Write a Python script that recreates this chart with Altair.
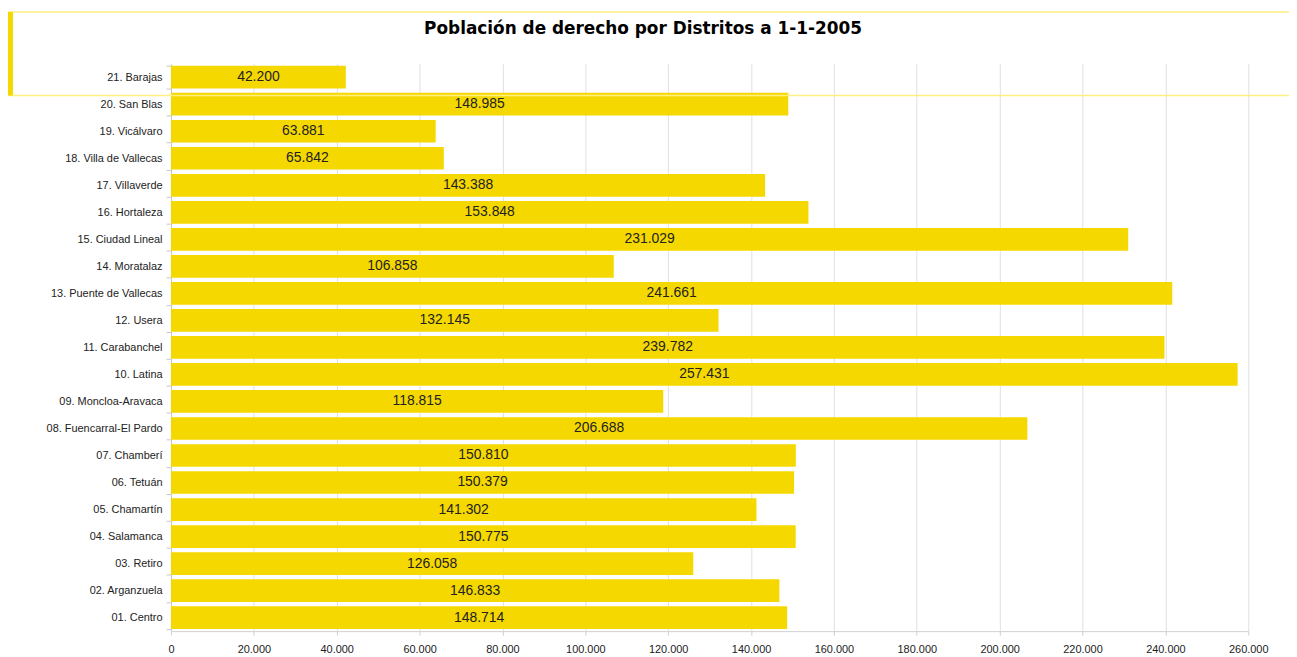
import altair as alt
import pandas as pd

districts = [
    "01. Centro", "02. Arganzuela", "03. Retiro", "04. Salamanca", "05. Chamartín",
    "06. Tetuán", "07. Chamberí", "08. Fuencarral-El Pardo", "09. Moncloa-Aravaca",
    "10. Latina", "11. Carabanchel", "12. Usera", "13. Puente de Vallecas",
    "14. Moratalaz", "15. Ciudad Lineal", "16. Hortaleza", "17. Villaverde",
    "18. Villa de Vallecas", "19. Vicálvaro", "20. San Blas", "21. Barajas",
]
population = [
    148714, 146833, 126058, 150775, 141302, 150379, 150810, 206688, 118815,
    257431, 239782, 132145, 241661, 106858, 231029, 153848, 143388, 65842,
    63881, 148985, 42200,
]
x_ticks = list(range(0, 260001, 20000))
title_text = "Población de derecho por Distritos a 1-1-2005"

df = pd.DataFrame({"distrito": districts, "poblacion": population})
order = list(reversed(districts))

BAR = "#F5D800"
BOX = "#FFEE80"
FONT = "Liberation Sans"

base = alt.Chart(df).transform_calculate(
    label="replace(format(datum.poblacion, ',d'), ',', '.')"
)

y_enc = alt.Y(
    "distrito:N", sort=order, title=None,
    scale=alt.Scale(paddingInner=0.16, paddingOuter=0.08),
    axis=alt.Axis(labelFontSize=11, labelFont=FONT, labelColor="#222",
                  domainColor="#c8c8c8", tickColor="#c8c8c8", tickSize=5,
                  tickBand="extent", labelPadding=4, grid=False),
)
x_enc = alt.X(
    "poblacion:Q", title=None,
    scale=alt.Scale(domain=[0, 260000], nice=False),
    axis=alt.Axis(values=x_ticks, grid=True, gridColor="#e0e0e0",
                  domainColor="#d0d0d0", tickColor="#d0d0d0", tickSize=4,
                  labelFontSize=11, labelFont=FONT, labelColor="#222",
                  labelPadding=8, labelFlush=False,
                  labelExpr="replace(format(datum.value, ',d'), ',', '.')"),
)

bars = base.mark_bar(color=BAR).encode(x=x_enc, y=y_enc)
labels = base.mark_text(font=FONT, fontSize=14, color="#222", baseline="middle").encode(
    x=alt.X("xmid:Q"), y=alt.Y("distrito:N", sort=order), text="label:N"
).transform_calculate(xmid="datum.poblacion / 2")

deco = alt.Data(values=[{}])
top_line = alt.Chart(deco).mark_rule(color=BOX, strokeWidth=1.5).encode(
    x=alt.value(-165), x2=alt.value(1125), y=alt.value(-52))
bottom_line = alt.Chart(deco).mark_rule(color=BOX, strokeWidth=1.5).encode(
    x=alt.value(-165), x2=alt.value(1125), y=alt.value(32))
left_bar = alt.Chart(deco).mark_rect(color=BAR).encode(
    x=alt.value(-165), x2=alt.value(-159), y=alt.value(-52), y2=alt.value(32))
title = alt.Chart(deco).mark_text(
    text=title_text, font="DejaVu Sans", fontWeight="bold", fontSize=17,
    color="#000", align="center", baseline="middle").encode(
    x=alt.value(475), y=alt.value(-35))

chart = alt.layer(bars, labels, top_line, bottom_line, left_bar, title).properties(
    width=1084, height=571,
    autosize=alt.AutoSizeParams(type="none"),
    padding={"left": 164, "top": 54, "right": 41, "bottom": 26},
).configure_view(stroke=None)

chart.save("out.html", embed_options={"renderer": "svg", "actions": False})
